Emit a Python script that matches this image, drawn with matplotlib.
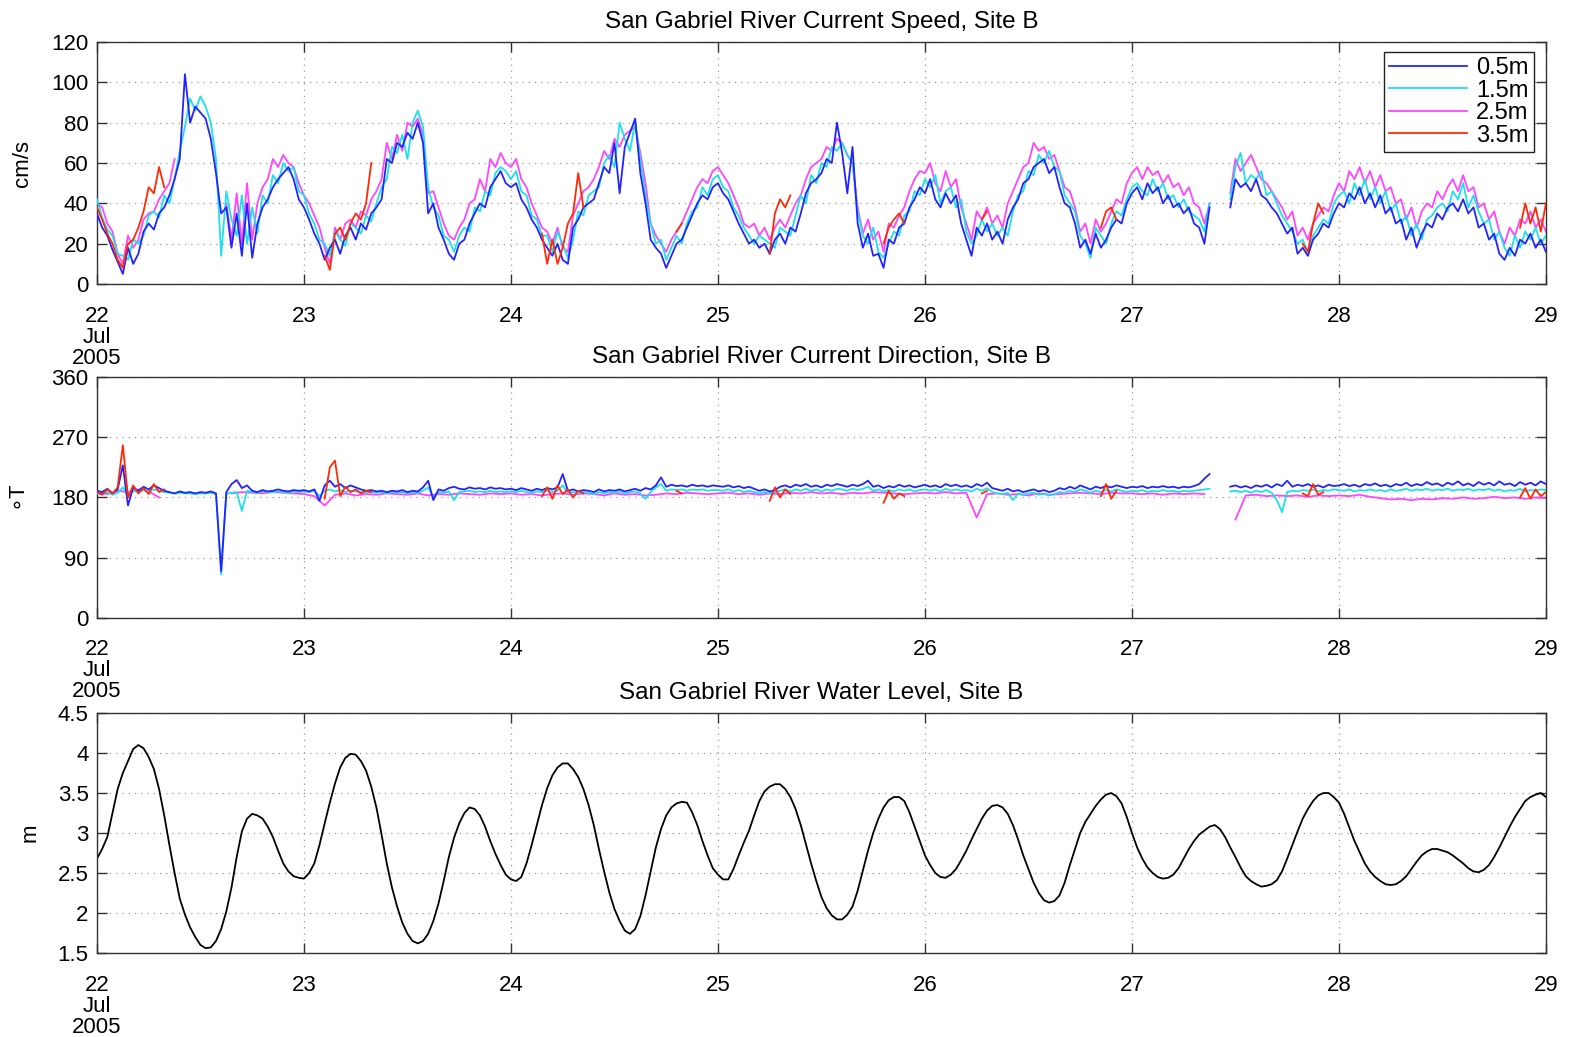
import numpy as np
import matplotlib.pyplot as plt

nan = np.nan

plt.rcParams['font.family'] = ['Liberation Sans', 'DejaVu Sans']
plt.rcParams['font.size'] = 16

# x axis: days of July 2005
days = [22, 23, 24, 25, 26, 27, 28, 29]
day_labels = ['22\nJul\n2005', '23', '24', '25', '26', '27', '28', '29']

# current speed (cm/s), every 0.025 day from 22.000 to 29.000
speed_05 = [
    35, 28, 24, 17, 11, 5, 18, 10, 15, 26, 30, 27, 35, 38, 44, 52, 62, 104, 80, 88,
    85, 82, 72, 55, 35, 38, 18, 35, 14, 40, 13, 30, 38, 42, 48, 52, 55, 58, 52, 42,
    38, 32, 25, 20, 12, 18, 22, 15, 24, 28, 22, 30, 27, 35, 38, 42, 62, 60, 70, 68,
    75, 72, 80, 70, 35, 40, 28, 22, 15, 12, 20, 22, 30, 35, 40, 38, 48, 52, 56, 50,
    48, 50, 42, 38, 32, 28, 22, 18, 14, 20, 12, 10, 28, 32, 38, 40, 42, 50, 58, 55,
    70, 45, 68, 75, 82, 55, 40, 22, 18, 15, 8, 14, 20, 22, 28, 34, 40, 44, 42, 48,
    50, 45, 42, 36, 30, 25, 20, 22, 18, 20, 15, 22, 25, 20, 28, 26, 35, 45, 50, 52,
    55, 62, 60, 80, 65, 45, 68, 30, 18, 25, 14, 15, 8, 22, 20, 28, 30, 38, 42, 48,
    45, 52, 42, 38, 45, 40, 44, 30, 22, 14, 28, 24, 30, 22, 26, 20, 32, 38, 42, 50,
    52, 58, 60, 62, 55, 58, 48, 40, 38, 30, 18, 22, 15, 25, 18, 22, 28, 32, 30, 40,
    45, 48, 42, 50, 45, 48, 40, 44, 38, 40, 35, 38, 30, 28, 20, 38, nan, nan, nan, 38,
    52, 48, 50, 46, 52, 44, 42, 38, 35, 30, 25, 28, 15, 18, 14, 22, 25, 30, 28, 35,
    40, 38, 45, 42, 48, 40, 45, 38, 44, 35, 38, 30, 32, 22, 28, 18, 25, 30, 28, 35,
    32, 38, 40, 36, 42, 35, 38, 28, 30, 22, 25, 15, 12, 18, 14, 22, 20, 25, 18, 22, 16]
speed_15 = [
    42, 33, 27, 24, 15, 14, 12, 22, 20, 24, 34, 36, 33, 44, 40, 52, 66, 78, 92, 86,
    93, 88, 80, 62, 14, 46, 32, 24, 44, 20, 38, 25, 44, 40, 54, 50, 60, 56, 58, 46,
    44, 35, 30, 22, 20, 14, 26, 22, 19, 30, 28, 25, 34, 31, 40, 48, 52, 68, 65, 74,
    62, 80, 86, 78, 48, 38, 34, 24, 22, 16, 24, 28, 26, 38, 36, 46, 44, 55, 58, 56,
    52, 56, 46, 44, 34, 32, 24, 24, 16, 26, 20, 13, 22, 36, 34, 44, 46, 48, 60, 64,
    58, 80, 72, 66, 80, 62, 44, 30, 20, 22, 12, 18, 24, 20, 30, 36, 38, 48, 44, 52,
    54, 48, 46, 38, 34, 28, 24, 20, 24, 22, 20, 18, 28, 26, 24, 34, 44, 40, 54, 50,
    60, 58, 68, 66, 70, 64, 60, 36, 24, 20, 28, 16, 13, 20, 26, 24, 34, 36, 46, 44,
    52, 48, 54, 40, 46, 48, 38, 42, 26, 20, 24, 32, 26, 30, 24, 28, 24, 36, 44, 46,
    56, 54, 64, 60, 66, 58, 56, 44, 40, 36, 24, 20, 13, 28, 24, 20, 30, 36, 34, 42,
    48, 50, 46, 44, 52, 46, 50, 42, 44, 38, 42, 36, 34, 32, 26, 40, nan, nan, nan, 42,
    58, 65, 50, 54, 52, 56, 44, 46, 40, 34, 30, 26, 20, 22, 16, 24, 28, 32, 30, 40,
    44, 46, 40, 50, 44, 52, 42, 48, 40, 46, 36, 40, 30, 34, 24, 30, 22, 32, 34, 38,
    40, 36, 46, 42, 50, 38, 44, 36, 30, 32, 22, 26, 18, 14, 24, 18, 26, 22, 28, 20, 24]
speed_25 = [
    40, 38, 30, 26, 15, 10, 24, 18, 22, 32, 35, 36, 42, 46, 50, 62, nan, nan, nan, nan,
    nan, nan, nan, nan, nan, 40, 22, 45, 20, 50, 22, 40, 48, 52, 62, 58, 64, 60, 58, 50,
    44, 40, 34, 28, 18, 10, 28, 22, 30, 32, 28, 36, 34, 42, 46, 52, 70, 62, 74, 66,
    80, 78, 82, 74, 45, 46, 38, 30, 24, 22, 28, 32, 40, 42, 52, 46, 62, 58, 65, 60,
    58, 62, 52, 48, 40, 34, 28, 26, 20, 28, 18, 16, 34, 40, 46, 48, 52, 58, 66, 62,
    72, 68, 74, 76, 78, 65, 50, 30, 24, 20, 16, 22, 26, 30, 36, 42, 48, 52, 50, 56,
    58, 54, 50, 44, 38, 30, 28, 30, 24, 28, 22, 28, 32, 28, 34, 40, 44, 52, 58, 60,
    62, 68, 66, 72, 70, 64, 60, 38, 25, 32, 22, 26, 16, 30, 28, 34, 38, 46, 52, 56,
    55, 60, 50, 46, 56, 48, 52, 38, 30, 22, 36, 32, 38, 30, 34, 28, 40, 46, 52, 58,
    60, 70, 66, 68, 62, 64, 56, 48, 46, 38, 26, 30, 20, 32, 26, 30, 36, 42, 40, 50,
    55, 58, 52, 58, 54, 56, 50, 54, 48, 50, 44, 48, 40, 38, 30, 40, nan, nan, nan, 45,
    62, 56, 60, 64, 58, 52, 50, 46, 42, 38, 32, 36, 24, 28, 22, 30, 34, 38, 36, 44,
    50, 46, 56, 52, 58, 50, 56, 48, 54, 46, 48, 40, 42, 32, 38, 28, 36, 40, 38, 46,
    42, 48, 52, 46, 54, 46, 48, 38, 40, 32, 36, 26, 20, 28, 24, 32, 30, 36, 28, 32, 26]

# 3.5 m bin only reads at higher water: short stretches, 0.025 day apart
red_start = [22.0, 23.1, 24.15, 24.8, 25.25, 25.8, 26.275, 26.85, 27.825, 28.875]
speed_35 = [
    [38, 32, 25, 20, 12, 8, 20, 22, 28, 36, 48, 45, 58, 48],
    [14, 7, 25, 28, 22, 30, 35, 32, 40, 60],
    [25, 10, 22, 10, 18, 30, 35, 55, 38],
    [26, 30],
    [15, 35, 42, 38, 44],
    [20, 28, 32, 35, 30],
    [32, 36],
    [28, 36, 38, 32],
    [20, 16, 30, 40, 35],
    [28, 40, 30, 38, 26, 40]]

# current direction (deg T)
dir_05 = [
    190, 188, 193, 186, 192, 228, 168, 195, 190, 196, 192, 198, 194, 190, 188, 186, 189, 187, 188, 186,
    188, 187, 189, 186, 70, 188, 200, 206, 194, 198, 190, 188, 191, 189, 190, 192, 190, 189, 191, 190,
    191, 189, 192, 175, 198, 205, 196, 200, 194, 198, 195, 192, 190, 191, 189, 190, 188, 190, 189, 191,
    188, 190, 189, 195, 205, 176, 192, 190, 194, 196, 193, 192, 195, 193, 194, 192, 195, 193, 194, 192,
    193, 191, 194, 192, 190, 193, 191, 194, 192, 195, 215, 190, 192, 189, 191, 190, 188, 192, 189, 191,
    190, 192, 189, 191, 193, 190, 194, 192, 198, 210, 196, 199, 197, 198, 196, 199, 197, 198, 196, 198,
    197, 196, 198, 195, 197, 194, 196, 193, 190, 192, 189, 191, 196, 198, 195, 199, 197, 200, 196, 198,
    195, 199, 197, 200, 198, 196, 199, 197, 200, 205, 196, 198, 194, 197, 195, 199, 196, 198, 195, 197,
    199, 196, 198, 195, 200, 197, 199, 196, 198, 195, 200, 197, 202, 194, 192, 190, 193, 189, 191, 188,
    190, 192, 189, 191, 188, 190, 194, 192, 196, 193, 198, 195, 192, 196, 194, 197, 195, 198, 196, 194,
    196, 195, 197, 194, 196, 195, 197, 195, 196, 194, 196, 195, 197, 200, 208, 215, nan, nan, nan, 196,
    198, 195, 197, 194, 198, 196, 199, 195, 200, 197, 205, 196, 199, 197, 200, 196, 198, 195, 199, 197,
    198, 200, 197, 199, 196, 200, 198, 201, 197, 199, 196, 200, 198, 202, 197, 200, 198, 203, 199, 201,
    197, 202, 199, 204, 198, 201, 197, 203, 199, 202, 198, 204, 199, 201, 197, 203, 199, 202, 198, 204, 200]
dir_15 = [
    186, 185, 188, 184, 187, 195, 182, 190, 188, 191, 189, 192, 190, 188, 187, 186, 187, 186, 186, 185,
    186, 186, 187, 185, 65, 186, 187, 188, 160, 190, 188, 187, 189, 188, 188, 189, 188, 187, 189, 188,
    189, 188, 190, 182, 190, 192, 189, 191, 188, 190, 189, 188, 187, 188, 187, 188, 186, 188, 187, 188,
    186, 188, 187, 190, 195, 180, 188, 187, 189, 176, 188, 189, 190, 188, 189, 188, 190, 188, 189, 188,
    189, 188, 190, 188, 187, 189, 188, 190, 188, 190, 198, 187, 188, 186, 188, 187, 185, 188, 186, 188,
    187, 189, 186, 188, 189, 186, 178, 188, 195, 200, 190, 192, 191, 192, 190, 192, 191, 192, 190, 191,
    191, 190, 192, 189, 191, 188, 190, 188, 186, 188, 186, 188, 190, 192, 189, 192, 190, 193, 190, 192,
    189, 192, 190, 193, 192, 190, 193, 191, 193, 196, 190, 192, 189, 191, 189, 192, 190, 192, 189, 191,
    192, 190, 192, 189, 193, 190, 192, 190, 191, 189, 193, 190, 194, 188, 186, 185, 187, 176, 186, 184,
    186, 187, 184, 186, 183, 185, 188, 187, 190, 188, 192, 190, 187, 190, 188, 191, 189, 192, 190, 188,
    190, 189, 191, 188, 190, 189, 191, 189, 190, 188, 190, 189, 190, 191, 192, 193, nan, nan, nan, 189,
    190, 188, 190, 187, 190, 188, 191, 187, 176, 158, 188, 190, 189, 191, 190, 192, 189, 191, 190, 192,
    191, 190, 192, 189, 191, 190, 192, 190, 191, 189, 192, 190, 191, 193, 190, 192, 191, 193, 190, 192,
    191, 193, 190, 192, 191, 193, 190, 192, 191, 193, 190, 192, 189, 191, 190, 193, 189, 191, 190, 192, 191]
# 2.5 m direction, every 0.05 day
dir_25 = [
    187, 185, 190, 188, 192, 189, 180, nan, nan, nan, nan, nan, nan, 186, 188, 187, 186, 188, 187, 186,
    185, 182, 168, 184, 186, 183, 185, 184, 186, 185, 184, 186, 183, 185, 184, 186, 185, 184, 186, 185,
    186, 184, 185, 183, 185, 186, 184, 186, 185, 183, 186, 184, 185, 183, 184, 186, 185, 187, 186, 185,
    186, 187, 185, 186, 184, 186, 185, 187, 186, 188, 186, 187, 185, 187, 186, 188, 187, 186, 185, 186,
    187, 186, 188, 186, 187, 150, 185, 186, 184, 185, 183, 186, 184, 185, 186, 187, 186, 185, 187, 186,
    186, 185, 186, 184, 186, 185, 186, 185, nan, nan, 147, 183, 184, 182, 183, 182, 183, 181, 183, 182,
    183, 182, 184, 181, 179, 177, 178, 176, 178, 177, 179, 178, 180, 178, 179, 181, 179, 180, 178, 180, 179]
dir_35 = [
    [188, 184, 192, 186, 195, 258, 180, 198, 186, 194, 185, 200, 188, 192],
    [178, 225, 235, 182, 196, 188, 192, 186, 190, 188],
    [182, 195, 178, 198, 185, 192, 180, 190, 186],
    [190, 186],
    [175, 195, 180, 192, 185],
    [172, 190, 178, 186, 182],
    [186, 190],
    [182, 200, 178, 190],
    [186, 182, 200, 184, 188],
    [180, 194, 178, 192, 182, 188]]

# water level (m), every 0.025 day
level = [
    2.68, 2.80, 2.95, 3.25, 3.55, 3.75, 3.90, 4.05, 4.10, 4.06, 3.95, 3.80, 3.55, 3.22, 2.85, 2.50, 2.18, 1.98, 1.82, 1.70,
    1.60, 1.56, 1.57, 1.65, 1.80, 2.02, 2.32, 2.70, 3.02, 3.18, 3.24, 3.22, 3.18, 3.08, 2.95, 2.78, 2.62, 2.52, 2.46, 2.44,
    2.43, 2.50, 2.62, 2.85, 3.12, 3.38, 3.62, 3.82, 3.94, 3.99, 3.98, 3.90, 3.78, 3.58, 3.32, 2.98, 2.62, 2.32, 2.08, 1.88,
    1.74, 1.65, 1.62, 1.65, 1.74, 1.90, 2.12, 2.40, 2.70, 2.94, 3.12, 3.25, 3.32, 3.30, 3.22, 3.08, 2.90, 2.74, 2.60, 2.48,
    2.42, 2.40, 2.45, 2.62, 2.85, 3.10, 3.35, 3.56, 3.72, 3.82, 3.87, 3.87, 3.80, 3.70, 3.55, 3.35, 3.10, 2.80, 2.52, 2.26,
    2.05, 1.90, 1.78, 1.74, 1.80, 1.96, 2.22, 2.52, 2.82, 3.05, 3.22, 3.32, 3.37, 3.39, 3.38, 3.26, 3.10, 2.90, 2.72, 2.56,
    2.48, 2.42, 2.42, 2.55, 2.72, 2.88, 3.03, 3.22, 3.40, 3.52, 3.58, 3.61, 3.61, 3.55, 3.45, 3.30, 3.10, 2.86, 2.62, 2.40,
    2.20, 2.06, 1.97, 1.92, 1.92, 1.98, 2.08, 2.28, 2.53, 2.78, 3.00, 3.18, 3.32, 3.41, 3.45, 3.45, 3.40, 3.26, 3.08, 2.90,
    2.72, 2.60, 2.50, 2.45, 2.44, 2.48, 2.55, 2.66, 2.78, 2.92, 3.05, 3.18, 3.28, 3.34, 3.35, 3.32, 3.24, 3.10, 2.92, 2.72,
    2.55, 2.38, 2.25, 2.16, 2.13, 2.15, 2.22, 2.38, 2.60, 2.80, 3.00, 3.14, 3.24, 3.34, 3.42, 3.48, 3.50, 3.46, 3.37, 3.20,
    3.00, 2.82, 2.68, 2.57, 2.50, 2.45, 2.43, 2.44, 2.48, 2.56, 2.68, 2.80, 2.90, 2.98, 3.03, 3.08, 3.10, 3.05, 2.95, 2.82,
    2.70, 2.57, 2.46, 2.40, 2.36, 2.33, 2.34, 2.36, 2.41, 2.52, 2.68, 2.85, 3.02, 3.18, 3.30, 3.40, 3.47, 3.50, 3.50, 3.45,
    3.38, 3.24, 3.07, 2.90, 2.76, 2.62, 2.52, 2.45, 2.40, 2.36, 2.35, 2.36, 2.40, 2.46, 2.55, 2.64, 2.72, 2.77, 2.80, 2.80,
    2.78, 2.76, 2.72, 2.67, 2.62, 2.56, 2.52, 2.51, 2.54, 2.60, 2.70, 2.82, 2.95, 3.08, 3.20, 3.30, 3.40, 3.45, 3.48, 3.50, 3.45]

t40 = 22 + np.arange(len(speed_05)) / 40.0
t20 = 22 + np.arange(len(dir_25)) / 20.0


def join_segments(starts, pieces):
    tt, vv = [], []
    for s, p in zip(starts, pieces):
        tt += list(s + np.arange(len(p)) / 40.0) + [nan]
        vv += list(p) + [nan]
    return tt, vv


c_blue = '#2323ff'
c_cyan = '#1ee0ea'
c_mag = '#ff45ff'
c_red = '#ff2a05'
lw = 1.3


def style(ax, ylim, yticks, ylabels, ylabel, title, ylab_x):
    ax.set_xlim(22, 29)
    ax.set_ylim(*ylim)
    ax.set_xticks(days)
    ax.set_xticklabels(day_labels, linespacing=1.0)
    ax.set_yticks(yticks)
    ax.set_yticklabels(ylabels)
    ax.tick_params(axis='both', direction='in', top=True, right=True,
                   length=7, width=1, color='#333333')
    ax.tick_params(axis='x', pad=15.5)
    ax.tick_params(axis='y', pad=6)
    ax.grid(True, linestyle=(0, (1, 4)), color='#9a9a9a', linewidth=0.9)
    for s in ax.spines.values():
        s.set_color('#333333')
        s.set_linewidth(1.0)
    ax.set_title(title, fontsize=17.5, pad=10)
    ax.set_ylabel(ylabel)
    ax.yaxis.set_label_coords(ylab_x, 0.5)


fig = plt.figure(figsize=(15.69, 10.37), dpi=100)
ax1 = fig.add_axes([0.0618, 0.7261, 0.9235, 0.2334])
ax2 = fig.add_axes([0.0618, 0.4041, 0.9235, 0.2324])
ax3 = fig.add_axes([0.0618, 0.0810, 0.9235, 0.2314])

# speed
rt, rv = join_segments(red_start, speed_35)
h1, = ax1.plot(t40, speed_05, color=c_blue, lw=lw, zorder=4, label='0.5m')
h2, = ax1.plot(t40, speed_15, color=c_cyan, lw=lw, zorder=3, label='1.5m')
h3, = ax1.plot(t40, speed_25, color=c_mag, lw=lw, zorder=2, label='2.5m')
h4, = ax1.plot(rt, rv, color=c_red, lw=lw, zorder=5, label='3.5m')
style(ax1, (0, 120), [0, 20, 40, 60, 80, 100, 120],
      ['0', '20', '40', '60', '80', '100', '120'], 'cm/s',
      'San Gabriel River Current Speed, Site B', -0.044)
leg = ax1.legend(handles=[h1, h2, h3, h4], loc='upper right',
                 bbox_to_anchor=(0.9917, 0.9587), borderaxespad=0,
                 fancybox=False, framealpha=1, edgecolor='#222222',
                 handlelength=3.3, handletextpad=0.4, labelspacing=0.02,
                 borderpad=0.22, fontsize=17)
leg.get_frame().set_linewidth(1.0)
leg.set_zorder(10)

# direction
rt, rv = join_segments(red_start, dir_35)
ax2.plot(t40, dir_05, color=c_blue, lw=lw, zorder=4)
ax2.plot(t40, dir_15, color=c_cyan, lw=lw, zorder=3)
ax2.plot(t20, dir_25, color=c_mag, lw=lw, zorder=2)
ax2.plot(rt, rv, color=c_red, lw=lw, zorder=5)
style(ax2, (0, 360), [0, 90, 180, 270, 360],
      ['0', '90', '180', '270', '360'], r'$\circ$T',
      'San Gabriel River Current Direction, Site B', -0.046)

# water level
ax3.plot(t40, level, color='black', lw=1.3)
style(ax3, (1.5, 4.5), [1.5, 2, 2.5, 3, 3.5, 4, 4.5],
      ['1.5', '2', '2.5', '3', '3.5', '4', '4.5'], 'm',
      'San Gabriel River Water Level, Site B', -0.039)

fig.savefig('out.png', dpi=100)
